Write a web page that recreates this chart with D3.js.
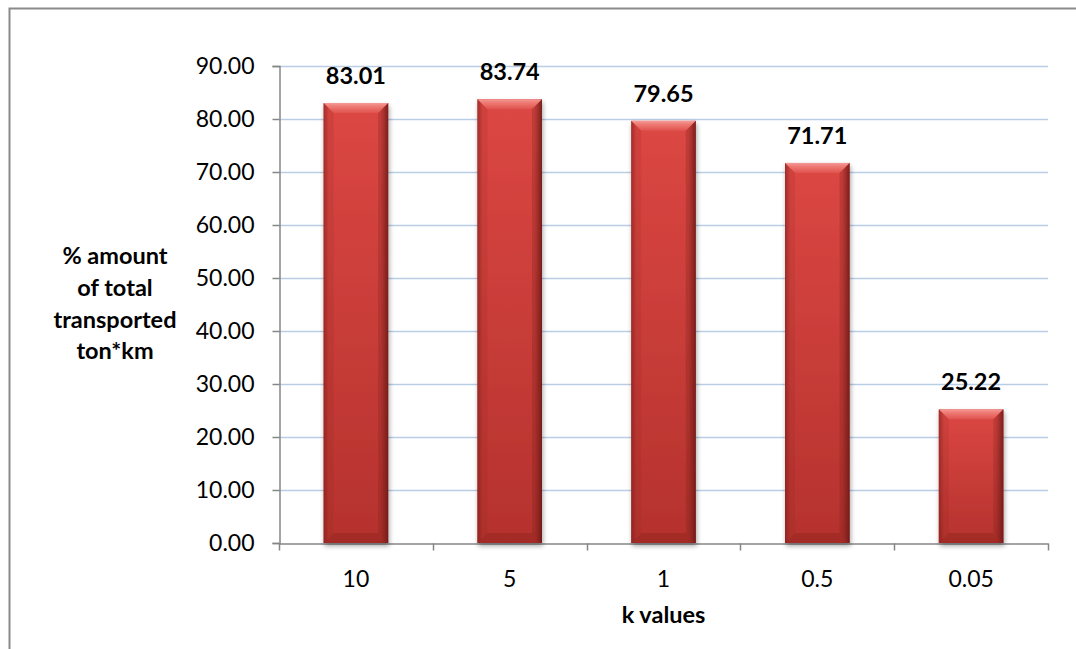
<!DOCTYPE html>
<html>
<head>
<meta charset="utf-8">
<script src="https://cdn.jsdelivr.net/npm/d3@7"></script>
<style>
  html, body { margin: 0; padding: 0; background: #fff; }
  svg { display: block; }
  text { font-family: Lato, "Open Sans", sans-serif; fill: #000; }
</style>
</head>
<body>
<svg id="chart" width="1076" height="649"></svg>
<script>
// k values on the x axis and the share of total transported ton*km for each
const categories = ["10", "5", "1", "0.5", "0.05"];
const values = [83.01, 83.74, 79.65, 71.71, 25.22];
const yTicks = [0, 10, 20, 30, 40, 50, 60, 70, 80, 90];
const yTitleLines = ["% amount", "of total", "transported", "ton*km"];
const xTitle = "k values";

const W = 1076, H = 649;
const plot = { left: 279, right: 1048, top: 66, bottom: 543 };
const tickFont = 23;
const boldFont = 23.5;

const svg = d3.select("#chart");
const defs = svg.append("defs");

// bar body: darker toward the bottom
const gBody = defs.append("linearGradient").attr("id", "barBody")
  .attr("x1", 0).attr("y1", 0).attr("x2", 0).attr("y2", 1);
gBody.append("stop").attr("offset", 0).attr("stop-color", "#dc4743");
gBody.append("stop").attr("offset", 1).attr("stop-color", "#b5322e");

// side shading: dark left and right rims
const gSide = defs.append("linearGradient").attr("id", "barSide")
  .attr("x1", 0).attr("y1", 0).attr("x2", 1).attr("y2", 0);
gSide.append("stop").attr("offset", 0).attr("stop-color", "#7a1d1a").attr("stop-opacity", 0.55);
gSide.append("stop").attr("offset", 0.08).attr("stop-color", "#7a1d1a").attr("stop-opacity", 0.0);
gSide.append("stop").attr("offset", 0.88).attr("stop-color", "#7a1d1a").attr("stop-opacity", 0.0);
gSide.append("stop").attr("offset", 1).attr("stop-color", "#5e1412").attr("stop-opacity", 0.75);

// top bevel highlight
const gTop = defs.append("linearGradient").attr("id", "barTop")
  .attr("x1", 0).attr("y1", 0).attr("x2", 0).attr("y2", 1);
gTop.append("stop").attr("offset", 0).attr("stop-color", "#f49a95");
gTop.append("stop").attr("offset", 0.35).attr("stop-color", "#ee7a74");
gTop.append("stop").attr("offset", 1).attr("stop-color", "#e0524d");

const shadow = defs.append("filter").attr("id", "barShadow")
  .attr("x", "-20%").attr("y", "-5%").attr("width", "140%").attr("height", "115%");
shadow.append("feGaussianBlur").attr("in", "SourceAlpha").attr("stdDeviation", 2.5).attr("result", "b");
shadow.append("feOffset").attr("in", "b").attr("dx", 1).attr("dy", 3).attr("result", "o");
shadow.append("feComponentTransfer").attr("in", "o").attr("result", "s")
  .append("feFuncA").attr("type", "linear").attr("slope", 0.35);
const fm = shadow.append("feMerge");
fm.append("feMergeNode").attr("in", "s");
fm.append("feMergeNode").attr("in", "SourceGraphic");

// outer chart frame
svg.append("rect")
  .attr("x", 9.5).attr("y", 8.5).attr("width", W + 20).attr("height", H + 20)
  .attr("fill", "none").attr("stroke", "#8a8a8a").attr("stroke-width", 2);

const x = d3.scaleBand().domain(categories)
  .range([plot.left, plot.right])
  .paddingInner(0.58).paddingOuter(0.29);

const y = d3.scaleLinear().domain([0, 90]).range([plot.bottom, plot.top]);

// horizontal gridlines
svg.append("g").selectAll("line").data(yTicks.filter(d => d > 0)).join("line")
  .attr("x1", plot.left).attr("x2", plot.right)
  .attr("y1", d => Math.round(y(d)) + 0.5).attr("y2", d => Math.round(y(d)) + 0.5)
  .attr("stroke", "#b9cde5").attr("stroke-width", 1.5);

// y axis
const yAxis = svg.append("g")
  .attr("transform", `translate(${plot.left + 0.5},0)`)
  .call(d3.axisLeft(y).tickValues(yTicks).tickFormat(d3.format(".2f")).tickSize(7).tickPadding(18));
yAxis.select(".domain").attr("stroke", "#868686").attr("stroke-width", 1.5);
yAxis.selectAll(".tick line").attr("stroke", "#868686").attr("stroke-width", 1.5);
yAxis.selectAll(".tick text").attr("font-size", tickFont).attr("font-family", "Lato, sans-serif").attr("fill", "#000");

// x axis with boundary tick marks between categories
const xAxis = svg.append("g")
  .attr("transform", `translate(0,${plot.bottom + 0.5})`)
  .call(d3.axisBottom(x).tickSize(0).tickPadding(27));
xAxis.select(".domain").attr("stroke", "#868686").attr("stroke-width", 1.5);
xAxis.selectAll(".tick text").attr("font-size", tickFont).attr("font-family", "Lato, sans-serif").attr("fill", "#000");
const bounds = categories.map(c => x(c) - x.step() * x.paddingInner() / 2);
bounds.push(plot.right);
xAxis.append("g").selectAll("line").data(bounds).join("line")
  .attr("x1", d => Math.round(d) + 0.5).attr("x2", d => Math.round(d) + 0.5)
  .attr("y1", 0).attr("y2", 7)
  .attr("stroke", "#868686").attr("stroke-width", 1.5);

// bars with bevel shading
const bars = svg.append("g").selectAll("g").data(values).join("g")
  .attr("filter", "url(#barShadow)");
const bx = (d, i) => x(categories[i]);
const bw = x.bandwidth();
bars.append("rect")
  .attr("x", bx).attr("y", d => y(d))
  .attr("width", bw).attr("height", d => y(0) - y(d))
  .attr("fill", "url(#barBody)");
bars.append("rect")
  .attr("x", bx).attr("y", d => y(d))
  .attr("width", bw).attr("height", d => y(0) - y(d))
  .attr("fill", "url(#barSide)");
const bev = 10;
// top bevel
bars.append("path")
  .attr("d", (d, i) => {
    const x0 = bx(d, i), x1 = x0 + bw, t = y(d);
    return `M${x0},${t}L${x1},${t}L${x1 - bev},${t + bev}L${x0 + bev},${t + bev}Z`;
  })
  .attr("fill", "url(#barTop)");
// bottom bevel
bars.append("path")
  .attr("d", (d, i) => {
    const x0 = bx(d, i), x1 = x0 + bw, b = y(0);
    return `M${x0},${b}L${x1},${b}L${x1 - bev},${b - bev}L${x0 + bev},${b - bev}Z`;
  })
  .attr("fill", "#8e2622").attr("opacity", 0.45);
// right bevel
bars.append("path")
  .attr("d", (d, i) => {
    const x1 = bx(d, i) + bw, t = y(d), b = y(0);
    return `M${x1},${t}L${x1},${b}L${x1 - bev},${b - bev}L${x1 - bev},${t + bev}Z`;
  })
  .attr("fill", "#6e1a17").attr("opacity", 0.25);
// left bevel
bars.append("path")
  .attr("d", (d, i) => {
    const x0 = bx(d, i), t = y(d), b = y(0);
    return `M${x0},${t}L${x0},${b}L${x0 + bev},${b - bev}L${x0 + bev},${t + bev}Z`;
  })
  .attr("fill", "#7a1d1a").attr("opacity", 0.12);

// value labels above bars
svg.append("g").selectAll("text").data(values).join("text")
  .attr("x", (d, i) => x(categories[i]) + bw / 2)
  .attr("y", d => y(d) - 19)
  .attr("text-anchor", "middle")
  .attr("font-size", boldFont).attr("font-weight", 700)
  .text(d => d3.format(".2f")(d));

// y axis title
svg.append("g").selectAll("text").data(yTitleLines).join("text")
  .attr("x", 115).attr("y", (d, i) => 264 + i * 31.8)
  .attr("text-anchor", "middle")
  .attr("font-size", boldFont).attr("font-weight", 700)
  .text(d => d);

// x axis title
svg.append("text")
  .attr("x", (plot.left + plot.right) / 2).attr("y", 623)
  .attr("text-anchor", "middle")
  .attr("font-size", boldFont).attr("font-weight", 700)
  .text(xTitle);
</script>
</body>
</html>
